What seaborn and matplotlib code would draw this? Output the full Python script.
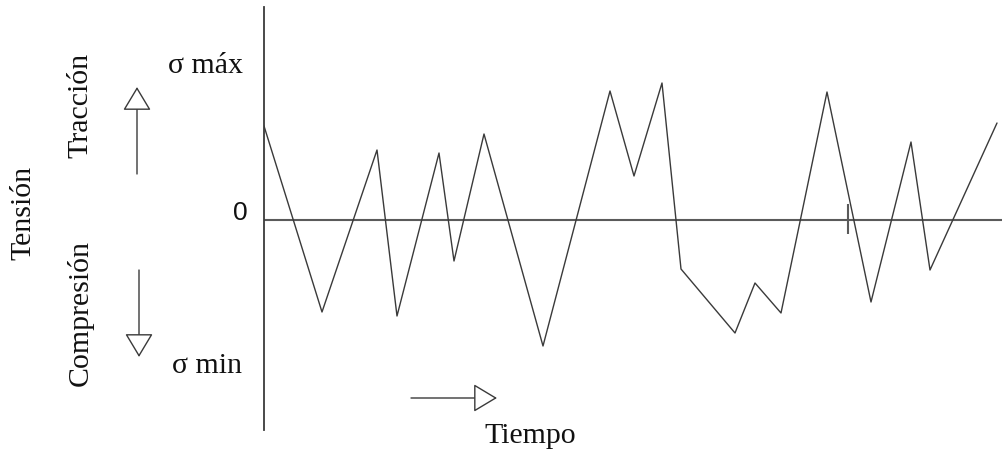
import pandas as pd
import matplotlib
matplotlib.use("Agg")
import matplotlib.pyplot as plt
import seaborn as sns

# Stress history (time, stress in arbitrary units)
tiempo = [0.00, 0.58, 1.13, 1.33, 1.75, 1.90, 2.20, 2.79, 3.46, 3.70,
          3.98, 4.17, 4.71, 4.91, 5.17, 5.63, 6.07, 6.47, 6.66, 7.33]
tension = [0.94, -0.92, 0.70, -0.96, 0.67, -0.41, 0.86, -1.26, 1.29, 0.44,
           1.37, -0.49, -1.13, -0.63, -0.93, 1.28, -0.82, 0.78, -0.50, 0.97]

# small tick mark on the zero line
marca_t = 5.84
marca_s = [-0.14, 0.16]

labels = {"max": "σ máx", "min": "σ min", "cero": "0",
          "eje_y": "Tensión", "arriba": "Tracción", "abajo": "Compresión",
          "eje_x": "Tiempo"}

data = pd.DataFrame({"t": tiempo, "s": tension})

sns.set_theme(style="white")
plt.rcParams["font.family"] = ["Liberation Serif", "DejaVu Serif"]

fig = plt.figure(figsize=(10.02, 4.54), dpi=100)
ax = fig.add_axes([264 / 1002, 24 / 454, 738 / 1002, 423 / 454])

sns.lineplot(data=data, x="t", y="s", ax=ax, color="#3a3a3a", linewidth=1.0,
             sort=False, estimator=None)
ax.axhline(0, color="#5a5a5a", linewidth=1.5, zorder=1)
ax.vlines(marca_t, marca_s[0], marca_s[1], color="#5a5a5a", linewidth=1.5)

ax.set_xlim(0, 7.38)
ax.set_ylim(-2.10, 2.13)
for side in ["top", "right", "bottom"]:
    ax.spines[side].set_visible(False)
ax.spines["left"].set_color("#3a3a3a")
ax.spines["left"].set_linewidth(1.3)
ax.set_xticks([])
ax.set_yticks([])
ax.set_xlabel("")
ax.set_ylabel("")

txt = dict(xycoords="figure pixels", ha="center", va="center",
           fontsize=21.5, color="#111111")
ax.annotate(labels["eje_y"], (23, 241), rotation=90, **txt)
ax.annotate(labels["arriba"], (80, 349), rotation=90, **txt)
ax.annotate(labels["abajo"], (80, 141), rotation=90, **txt)
ax.annotate(labels["max"], (205, 388), **txt)
ax.annotate(labels["min"], (207, 88), **txt)
ax.annotate(labels["eje_x"], (530, 18), **txt)
ax.annotate(labels["cero"], (240, 241), xycoords="figure pixels", ha="center",
            va="center", fontsize=19, color="#111111", family="Liberation Sans")

flecha = dict(arrowstyle="-|>,head_length=1.0,head_width=0.6",
              mutation_scale=15, fc="white", ec="#3a3a3a", lw=1.0,
              shrinkA=0, shrinkB=0)
ax.annotate("", xy=(137, 367), xytext=(137, 280), xycoords="figure pixels",
            textcoords="figure pixels", arrowprops=flecha)
ax.annotate("", xy=(139, 97), xytext=(139, 184), xycoords="figure pixels",
            textcoords="figure pixels", arrowprops=flecha)
ax.annotate("", xy=(497, 56), xytext=(411, 56), xycoords="figure pixels",
            textcoords="figure pixels", arrowprops=flecha)

fig.savefig("out.png", dpi=100)
